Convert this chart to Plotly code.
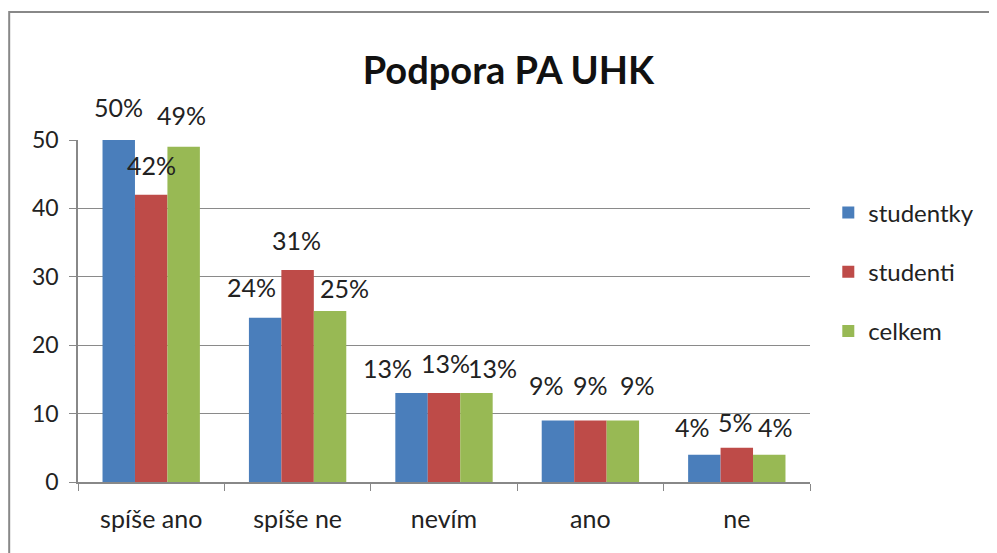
import plotly.graph_objects as go

categories = ["spíše ano", "spíše ne", "nevím", "ano", "ne"]
studentky = [50, 24, 13, 9, 4]
studenti = [42, 31, 13, 9, 5]
celkem = [49, 25, 13, 9, 4]
series_names = ["studentky", "studenti", "celkem"]
colors = ["#4A7EBB", "#BE4B48", "#98B954"]
y_ticks = [0, 10, 20, 30, 40, 50]

# label nudges (pixels) per series, per category, as placed in the original chart
label_dx = [[0, -14, -24, -11, -12],
            [0, -1, 1, 0, -1],
            [-2, 14, 16, 15, 6]]
label_dy = [[33, 31, 25, 35, 28],
            [30, 30, 30, 35, 26],
            [32, 23, 25, 35, 28]]

FONT = "Lato"
W, H = 989, 545
L, R, T, B = 70, 187, 132, 71
BARGAP = 0.335
plot_w = W - L - R
cat_w = plot_w / len(categories)
bar_w = cat_w * (1 - BARGAP) / len(series_names)

fig = go.Figure()
all_vals = [studentky, studenti, celkem]
for i, (name, vals, col) in enumerate(zip(series_names, all_vals, colors)):
    fig.add_trace(go.Bar(
        x=categories, y=vals, name=name, marker_color=col,
        marker_line_width=0, legendgroup=name,
    ))
    shift = (i - 1) * bar_w
    for j, (c, v) in enumerate(zip(categories, vals)):
        fig.add_annotation(x=c, y=v, text=f"{v}%", showarrow=False,
                           xshift=shift + label_dx[i][j], yshift=label_dy[i][j],
                           yanchor="middle",
                           font=dict(family=FONT, size=25, color="#222"))

fig.update_layout(
    width=W, height=H,
    paper_bgcolor="white", plot_bgcolor="white",
    margin=dict(l=L, r=R, t=T, b=B, autoexpand=False),
    barmode="group", bargap=BARGAP, bargroupgap=0,
    title=dict(text="<b>Podpora PA UHK</b>", x=0.506, xanchor="center", y=0.885, yanchor="middle",
               font=dict(family=FONT, size=38, color="#111")),
    font=dict(family=FONT, size=20, color="#222"),
    legend=dict(x=1.025, y=0.614, xanchor="left", yanchor="middle",
                font=dict(family=FONT, size=24, color="#222"),
                tracegroupgap=25, traceorder="grouped", bgcolor="rgba(0,0,0,0)"),
)
fig.update_xaxes(showline=True, linecolor="#888", linewidth=1.5,
                 ticks="outside", tickson="boundaries", ticklen=7, tickcolor="#888",
                 ticklabelstandoff=14,
                 tickfont=dict(family=FONT, size=25, color="#222"), showgrid=False)
fig.update_yaxes(range=[0, 50], tickvals=y_ticks, showline=True, linecolor="#888", linewidth=1.5,
                 ticks="outside", ticklen=7, tickcolor="#888", ticklabelstandoff=6,
                 gridcolor="#8a8a8a", gridwidth=1.2, zeroline=False,
                 tickfont=dict(family=FONT, size=23, color="#222"))
fig.add_shape(type="rect", xref="paper", yref="paper",
              x0=-0.094, x1=1.3, y0=-0.3, y1=1.374,
              line=dict(color="#888", width=2), fillcolor="rgba(0,0,0,0)")
fig.write_html("out.html")
